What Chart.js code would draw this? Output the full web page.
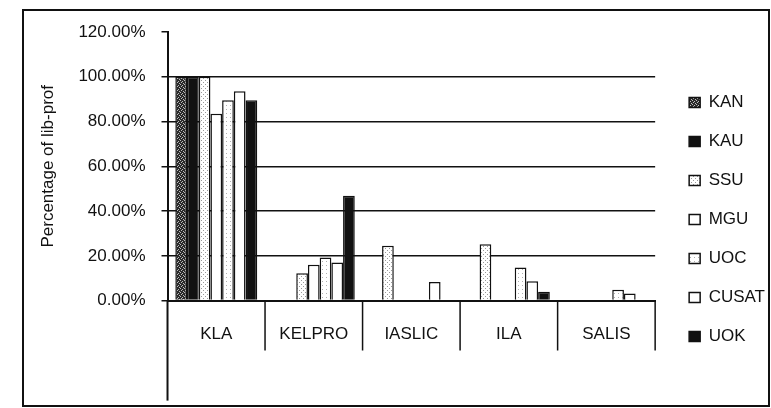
<!DOCTYPE html>
<html><head><meta charset="utf-8">
<script src="https://cdn.jsdelivr.net/npm/chart.js@4"></script>
<style>
html,body{margin:0;padding:0;background:#fff;}
#wrap{position:relative;width:771px;height:408px;overflow:hidden;}
#frame{position:absolute;left:22px;top:9px;width:744px;height:394px;border:2px solid #111;}
canvas{position:absolute;left:0;top:0;}
</style></head>
<body><div id="wrap"><div id="frame"></div><canvas id="c" width="771" height="408"></canvas></div>
<script>
const categories = ['KLA', 'KELPRO', 'IASLIC', 'ILA', 'SALIS'];
const seriesNames = ['KAN', 'KAU', 'SSU', 'MGU', 'UOC', 'CUSAT', 'UOK'];
const KAN   = [100, 0, 0, 0, 0];
const KAU   = [100, 0, 24.5, 25.2, 0];
const SSU   = [100, 12.2, 0, 0, 0];
const MGU   = [83.5, 16, 0, 0, 0];
const UOC   = [89.5, 19.3, 0, 14.8, 4.8];
const CUSAT = [93.5, 17, 8.3, 8.6, 3.2];
const UOK   = [89.5, 46.8, 0, 4, 0];
const yTickValues = [0, 20, 40, 60, 80, 100, 120];

function makePattern(bg, fg, pts) {
  const c = document.createElement('canvas');
  c.width = 4; c.height = 4;
  const x = c.getContext('2d');
  x.fillStyle = bg; x.fillRect(0, 0, 4, 4);
  x.fillStyle = fg;
  pts.forEach(p => x.fillRect(p[0], p[1], 1, 1));
  return x.createPattern(c, 'repeat');
}
const darkTex = makePattern('#2a2a2a', '#bdbdbd', [[0,0],[2,1],[1,2],[3,3]]);
const lightTex = makePattern('#ffffff', '#9a9a9a', [[1,0],[3,2]]);
const lightTex2 = makePattern('#ffffff', '#b0b0b0', [[2,1]]);

const seriesValues = [KAN, KAU, SSU, MGU, UOC, CUSAT, UOK];
const seriesFill = [
  darkTex,
  ['#111', '#111', lightTex, lightTex, '#111'],
  lightTex,
  '#ffffff',
  lightTex2,
  '#ffffff',
  '#111'
];

Chart.defaults.font.family = "'Liberation Sans', Arial, sans-serif";
Chart.defaults.font.size = 17;
Chart.defaults.color = '#111';

const legendNudge = {
  id: 'legendNudge',
  afterInit(chart) {
    const lg = chart.legend;
    const fit = lg.fit;
    lg.fit = function () { fit.apply(this, arguments); this.width += 8; };
  },
  afterLayout(chart) {
    const lg = chart.legend;
    lg.left += 12; lg.right += 12;
    lg.top += 23; lg.bottom += 23;
  }
};
const axisDecor = {
  id: 'axisDecor',
  afterDraw(chart) {
    const a = chart.chartArea, ctx = chart.ctx, sx = chart.scales.x;
    const n = chart.data.labels.length;
    ctx.save();
    ctx.strokeStyle = '#111';
    ctx.lineWidth = 2;
    ctx.beginPath();
    ctx.moveTo(a.left, a.bottom);
    ctx.lineTo(a.left, a.bottom + 100);
    ctx.stroke();
    ctx.lineWidth = 1.5;
    ctx.beginPath();
    for (let i = 1; i <= n; i++) {
      const x = i === n ? a.right : (sx.getPixelForValue(i - 1) + sx.getPixelForValue(i)) / 2;
      ctx.moveTo(x, a.bottom);
      ctx.lineTo(x, a.bottom + 50);
    }
    ctx.stroke();
    ctx.restore();
  }
};

new Chart(document.getElementById('c'), {
  type: 'bar',
  data: {
    labels: categories,
    datasets: seriesNames.map((n, i) => ({
      label: n,
      data: seriesValues[i],
      backgroundColor: seriesFill[i],
      borderColor: '#111',
      borderWidth: 1.5,
      categoryPercentage: 0.84,
      barPercentage: 1
    }))
  },
  options: {
    responsive: false,
    animation: false,
    layout: { padding: { left: 38, top: 32, bottom: 47, right: 0 } },
    plugins: {
      tooltip: { enabled: false },
      legend: {
        position: 'right',
        labels: { boxWidth: 11, boxHeight: 10, padding: 22, font: { size: 17 }, color: '#111' }
      }
    },
    scales: {
      x: {
        grid: { display: false },
        border: { display: true, color: '#111', width: 2 },
        ticks: { padding: 16, font: { size: 17 }, color: '#111', autoSkip: false, maxRotation: 0 }
      },
      y: {
        min: 0, max: 120,
        afterBuildTicks: s => { s.ticks = yTickValues.map(v => ({ value: v })); },
        ticks: { padding: 16, font: { size: 17 }, color: '#111', callback: v => v.toFixed(2) + '%' },
        grid: { color: c => (c.tick && c.tick.value === 120) ? 'rgba(0,0,0,0)' : '#111', tickColor: '#111', tickLength: 6, lineWidth: 1.5 },
        border: { display: true, color: '#111', width: 2 },
        title: { display: true, text: 'Percentage of lib-prof', font: { size: 17 }, color: '#111', padding: { top: 0, bottom: 4 } }
      }
    }
  },
  plugins: [legendNudge, axisDecor]
});
</script>
</body></html>
